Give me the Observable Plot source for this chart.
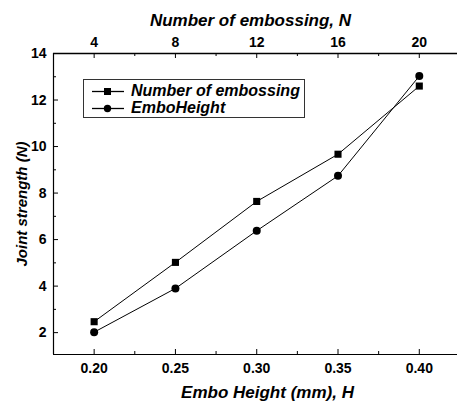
<!DOCTYPE html>
<html><head><meta charset="utf-8">
<script src="https://cdn.jsdelivr.net/npm/d3@7"></script>
<script src="https://cdn.jsdelivr.net/npm/@observablehq/plot@0.6"></script>
<style>
body{margin:0;background:#fff;}
#wrap{position:relative;width:457px;height:401px;overflow:hidden;font-family:"Liberation Sans",Arial,sans-serif;}
#legend{position:absolute;left:83px;top:79px;width:220px;height:37px;border:1px solid #333;background:#fff;}
.row{position:absolute;left:7px;height:18px;display:flex;align-items:center;font-weight:bold;font-style:italic;font-size:16px;color:#000;white-space:nowrap;}
.row svg{margin-right:6px;}
</style></head>
<body>
<div id="wrap"></div>
<script>
// data
const heights = [0.20, 0.25, 0.30, 0.35, 0.40];
const embossCounts = [4, 8, 12, 16, 20];
const strengthNumber = [2.47, 5.02, 7.64, 9.67, 12.6];
const strengthHeight = [2.02, 3.90, 6.38, 8.74, 13.03];
const seriesNames = ["Number of embossing", "EmboHeight"];
const xMinor = [0.225, 0.275, 0.325, 0.375];
const yMajor = [2, 4, 6, 8, 10, 12, 14];
const yMinor = [3, 5, 7, 9, 11, 13];
const xTitle = "Embo Height (mm), H";
const topTitle = "Number of embossing, N";
const yTitle = "Joint strength (N)";

const xDomain = [0.175, 0.4235];
const yDomain = [1.06, 14];
const W = 457, H = 401, mL = 53, mR = 0, mT = 53, mB = 47;
const fw = W - mL - mR, fh = H - mT - mB;

const rowsA = heights.map((h, i) => ({h, v: strengthNumber[i]}));
const rowsB = heights.map((h, i) => ({h, v: strengthHeight[i]}));
const font = "Liberation Sans, Arial, sans-serif";

const chart = Plot.plot({
  width: W, height: H,
  marginLeft: mL, marginRight: mR, marginTop: mT, marginBottom: mB,
  style: {fontFamily: font, color: "#000", background: "#fff", fontWeight: "bold"},
  x: {domain: xDomain, axis: null},
  y: {domain: yDomain, axis: null},
  marks: [
    // spines
    Plot.ruleX([xDomain[0]], {stroke: "#000", strokeWidth: 1.2}),
    Plot.ruleY([yDomain[0]], {stroke: "#000", strokeWidth: 1.2}),
    Plot.ruleY([yDomain[1]], {stroke: "#000", strokeWidth: 1.5}),
    // inward ticks bottom
    Plot.tickX(heights, {x: d => d, insetTop: fh - 5, stroke: "#000"}),
    Plot.tickX(xMinor, {x: d => d, insetTop: fh - 3, stroke: "#000"}),
    // inward ticks top
    Plot.tickX(heights, {x: d => d, insetBottom: fh - 5, stroke: "#000"}),
    Plot.tickX(xMinor, {x: d => d, insetBottom: fh - 3, stroke: "#000"}),
    // inward ticks left
    Plot.tickY(yMajor, {y: d => d, insetRight: fw - 5, stroke: "#000"}),
    Plot.tickY(yMinor, {y: d => d, insetRight: fw - 3, stroke: "#000"}),
    // tick labels
    Plot.axisX(heights, {anchor: "bottom", tickSize: 0, tickPadding: 9, tickFormat: d3.format(".2f"), label: null, fontSize: 14, fontWeight: "bold"}),
    Plot.axisX(heights, {anchor: "top", tickSize: 0, tickPadding: 7, tickFormat: (d) => String(embossCounts[heights.indexOf(d)]), label: null, fontSize: 14, fontWeight: "bold"}),
    Plot.axisY(yMajor, {anchor: "left", tickSize: 0, tickPadding: 7, label: null, fontSize: 14, fontWeight: "bold"}),
    // titles
    Plot.text([xTitle], {frameAnchor: "bottom", text: d => d, dy: 38, dx: 12, lineAnchor: "middle", textAnchor: "middle", fontSize: 17, fontWeight: "bold", fontStyle: "italic", fill: "#000"}),
    Plot.text([topTitle], {frameAnchor: "top", text: d => d, dy: -33, dx: -5, lineAnchor: "middle", textAnchor: "middle", fontSize: 17, fontWeight: "bold", fontStyle: "italic", fill: "#000"}),
    Plot.text([yTitle], {frameAnchor: "left", text: d => d, dx: -31, rotate: -90, lineAnchor: "middle", textAnchor: "middle", fontSize: 15, fontWeight: "bold", fontStyle: "italic", fill: "#000"}),
    // series
    Plot.line(rowsA, {x: "h", y: "v", stroke: "#000", strokeWidth: 1}),
    Plot.line(rowsB, {x: "h", y: "v", stroke: "#000", strokeWidth: 1}),
    Plot.dot(rowsA, {x: "h", y: "v", symbol: "square", r: 4, fill: "#000", stroke: "none"}),
    Plot.dot(rowsB, {x: "h", y: "v", symbol: "circle", r: 4, fill: "#000", stroke: "none"})
  ]
});

const wrap = document.getElementById("wrap");
wrap.appendChild(chart);

const legend = document.createElement("div");
legend.id = "legend";
const sym = (kind) => {
  const m = kind === "square"
    ? '<rect x="13" y="5" width="7" height="7" fill="#000"/>'
    : '<circle cx="16.5" cy="8.5" r="3.7" fill="#000"/>';
  return `<svg width="34" height="17" viewBox="0 0 34 17"><line x1="1" y1="8.5" x2="33" y2="8.5" stroke="#000" stroke-width="1.3"/>${m}</svg>`;
};
legend.innerHTML =
  `<div class="row" style="top:2px">${sym("square")}<span>${seriesNames[0]}</span></div>` +
  `<div class="row" style="top:19px">${sym("circle")}<span>${seriesNames[1]}</span></div>`;
wrap.appendChild(legend);
</script>
</body></html>
